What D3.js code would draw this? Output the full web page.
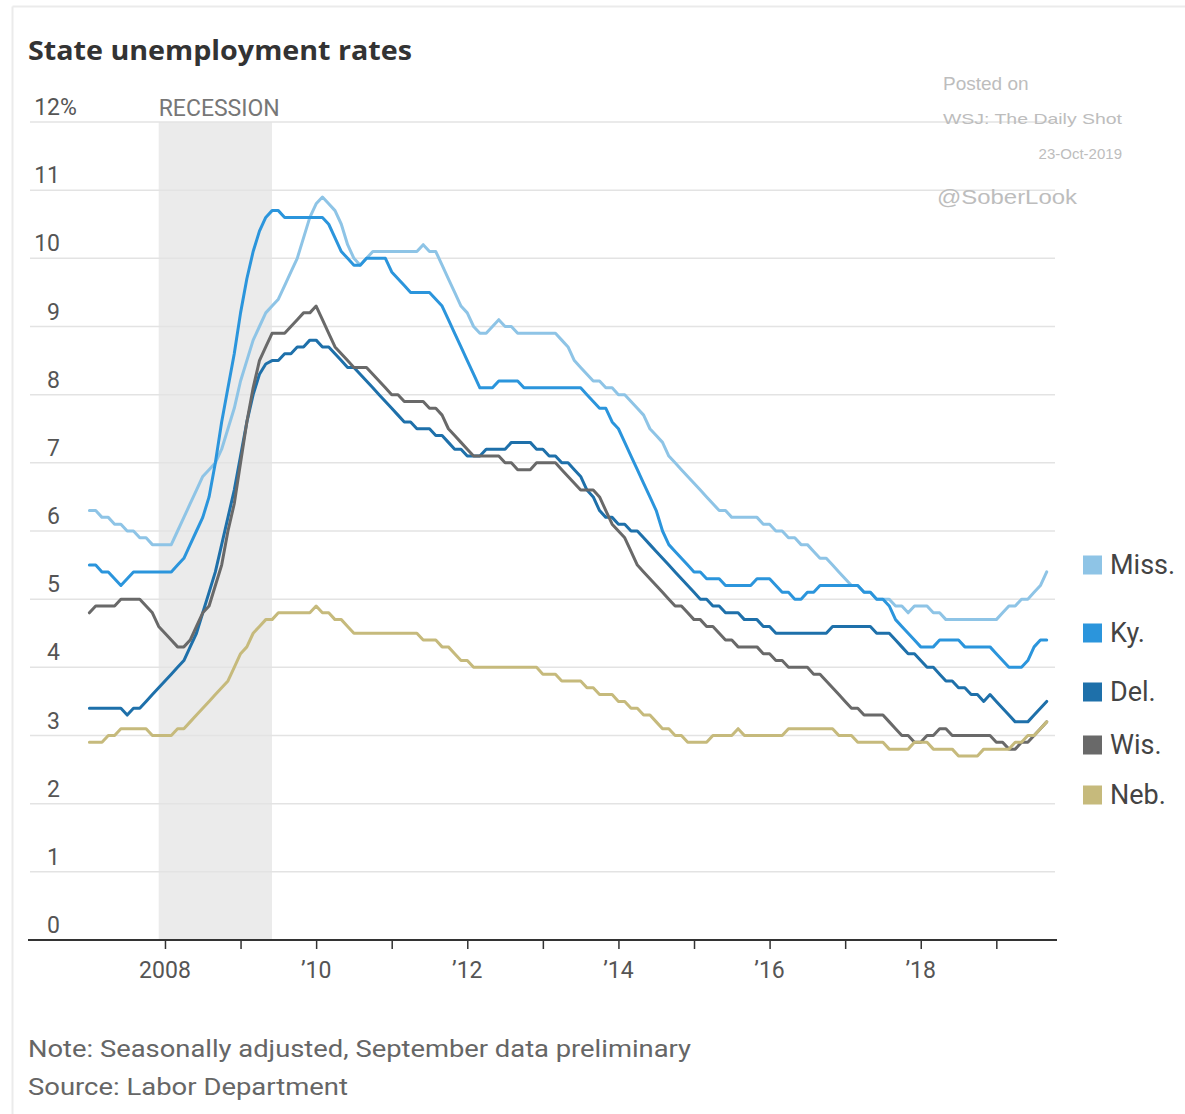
<!DOCTYPE html>
<html><head><meta charset="utf-8">
<script src="https://cdn.jsdelivr.net/npm/d3@7"></script>
<style>
html,body{margin:0;padding:0;background:#fff;}
svg{display:block;}
.narrow{font-family:"Liberation Sans Narrow","Arial Narrow","Roboto",sans-serif;}
</style></head>
<body>
<svg id="chart" width="1185" height="1114"></svg>
<script>
// ---- data (monthly, Jan 2007 – Sep 2019) ----
const startYear = 2007;
const states = ["Miss.", "Ky.", "Del.", "Wis.", "Neb."];
const colors = ["#8ec4e6", "#2b95dc", "#1e70aa", "#696969", "#c6ba7c"];
const miss = [
 6.3,6.3,6.2,6.2,6.1,6.1,6.0,6.0,5.9,5.9,5.8,5.8,
 5.8,5.8,6.0,6.2,6.4,6.6,6.8,6.9,7.0,7.2,7.5,7.8,
 8.2,8.5,8.8,9.0,9.2,9.3,9.4,9.6,9.8,10.0,10.3,10.6,
 10.8,10.9,10.8,10.7,10.5,10.2,10.0,9.9,10.0,10.1,10.1,10.1,
 10.1,10.1,10.1,10.1,10.1,10.2,10.1,10.1,9.9,9.7,9.5,9.3,
 9.2,9.0,8.9,8.9,9.0,9.1,9.0,9.0,8.9,8.9,8.9,8.9,
 8.9,8.9,8.9,8.8,8.7,8.5,8.4,8.3,8.2,8.2,8.1,8.1,
 8.0,8.0,7.9,7.8,7.7,7.5,7.4,7.3,7.1,7.0,6.9,6.8,
 6.7,6.6,6.5,6.4,6.3,6.3,6.2,6.2,6.2,6.2,6.2,6.1,
 6.1,6.0,6.0,5.9,5.9,5.8,5.8,5.7,5.6,5.6,5.5,5.4,
 5.3,5.2,5.2,5.1,5.1,5.0,5.0,5.0,4.9,4.9,4.8,4.9,
 4.9,4.9,4.8,4.8,4.7,4.7,4.7,4.7,4.7,4.7,4.7,4.7,
 4.7,4.8,4.9,4.9,5.0,5.0,5.1,5.2,5.4];
const ky = [
 5.5,5.5,5.4,5.4,5.3,5.2,5.3,5.4,5.4,5.4,5.4,5.4,
 5.4,5.4,5.5,5.6,5.8,6.0,6.2,6.5,7.0,7.6,8.1,8.6,
 9.2,9.7,10.1,10.4,10.6,10.7,10.7,10.6,10.6,10.6,10.6,10.6,
 10.6,10.6,10.5,10.3,10.1,10.0,9.9,9.9,10.0,10.0,10.0,10.0,
 9.8,9.7,9.6,9.5,9.5,9.5,9.5,9.4,9.3,9.1,8.9,8.7,
 8.5,8.3,8.1,8.1,8.1,8.2,8.2,8.2,8.2,8.1,8.1,8.1,
 8.1,8.1,8.1,8.1,8.1,8.1,8.1,8.0,7.9,7.8,7.8,7.6,
 7.5,7.3,7.1,6.9,6.7,6.5,6.3,6.0,5.8,5.7,5.6,5.5,
 5.4,5.4,5.3,5.3,5.3,5.2,5.2,5.2,5.2,5.2,5.3,5.3,
 5.3,5.2,5.1,5.1,5.0,5.0,5.1,5.1,5.2,5.2,5.2,5.2,
 5.2,5.2,5.2,5.1,5.1,5.0,5.0,4.9,4.7,4.6,4.5,4.4,
 4.3,4.3,4.3,4.4,4.4,4.4,4.4,4.3,4.3,4.3,4.3,4.3,
 4.2,4.1,4.0,4.0,4.0,4.1,4.3,4.4,4.4];
const del = [
 3.4,3.4,3.4,3.4,3.4,3.4,3.3,3.4,3.4,3.5,3.6,3.7,
 3.8,3.9,4.0,4.1,4.3,4.5,4.8,5.1,5.4,5.8,6.2,6.6,
 7.1,7.6,8.0,8.3,8.45,8.5,8.5,8.6,8.6,8.7,8.7,8.8,
 8.8,8.7,8.7,8.6,8.5,8.4,8.4,8.3,8.2,8.1,8.0,7.9,
 7.8,7.7,7.6,7.6,7.5,7.5,7.5,7.4,7.4,7.3,7.2,7.2,
 7.1,7.1,7.1,7.2,7.2,7.2,7.2,7.3,7.3,7.3,7.3,7.2,
 7.2,7.1,7.1,7.0,7.0,6.9,6.8,6.6,6.5,6.3,6.2,6.2,
 6.1,6.1,6.0,6.0,5.9,5.8,5.7,5.6,5.5,5.4,5.3,5.2,
 5.1,5.0,5.0,4.9,4.9,4.8,4.8,4.8,4.7,4.7,4.7,4.6,
 4.6,4.5,4.5,4.5,4.5,4.5,4.5,4.5,4.5,4.5,4.6,4.6,
 4.6,4.6,4.6,4.6,4.6,4.5,4.5,4.5,4.4,4.3,4.2,4.2,
 4.1,4.0,4.0,3.9,3.8,3.8,3.7,3.7,3.6,3.6,3.5,3.6,
 3.5,3.4,3.3,3.2,3.2,3.2,3.3,3.4,3.5];
const wis = [
 4.8,4.9,4.9,4.9,4.9,5.0,5.0,5.0,5.0,4.9,4.8,4.6,
 4.5,4.4,4.3,4.3,4.4,4.6,4.8,4.9,5.2,5.5,6.0,6.4,
 7.0,7.6,8.1,8.5,8.7,8.9,8.9,8.9,9.0,9.1,9.2,9.2,
 9.3,9.1,8.9,8.7,8.6,8.5,8.4,8.4,8.4,8.3,8.2,8.1,
 8.0,8.0,7.9,7.9,7.9,7.9,7.8,7.8,7.7,7.5,7.4,7.3,
 7.2,7.1,7.1,7.1,7.1,7.1,7.0,7.0,6.9,6.9,6.9,7.0,
 7.0,7.0,7.0,6.9,6.8,6.7,6.6,6.6,6.6,6.5,6.3,6.1,
 6.0,5.9,5.7,5.5,5.4,5.3,5.2,5.1,5.0,4.9,4.9,4.8,
 4.7,4.7,4.6,4.6,4.5,4.4,4.4,4.3,4.3,4.3,4.3,4.2,
 4.2,4.1,4.1,4.0,4.0,4.0,4.0,3.9,3.9,3.8,3.7,3.6,
 3.5,3.4,3.4,3.3,3.3,3.3,3.3,3.2,3.1,3.0,3.0,2.9,
 2.9,3.0,3.0,3.1,3.1,3.0,3.0,3.0,3.0,3.0,3.0,3.0,
 2.9,2.9,2.8,2.8,2.9,2.9,3.0,3.1,3.2];
const neb = [
 2.9,2.9,2.9,3.0,3.0,3.1,3.1,3.1,3.1,3.1,3.0,3.0,
 3.0,3.0,3.1,3.1,3.2,3.3,3.4,3.5,3.6,3.7,3.8,4.0,
 4.2,4.3,4.5,4.6,4.7,4.7,4.8,4.8,4.8,4.8,4.8,4.8,
 4.9,4.8,4.8,4.7,4.7,4.6,4.5,4.5,4.5,4.5,4.5,4.5,
 4.5,4.5,4.5,4.5,4.5,4.4,4.4,4.4,4.3,4.3,4.2,4.1,
 4.1,4.0,4.0,4.0,4.0,4.0,4.0,4.0,4.0,4.0,4.0,4.0,
 3.9,3.9,3.9,3.8,3.8,3.8,3.8,3.7,3.7,3.6,3.6,3.6,
 3.5,3.5,3.4,3.4,3.3,3.3,3.2,3.1,3.1,3.0,3.0,2.9,
 2.9,2.9,2.9,3.0,3.0,3.0,3.0,3.1,3.0,3.0,3.0,3.0,
 3.0,3.0,3.0,3.1,3.1,3.1,3.1,3.1,3.1,3.1,3.1,3.0,
 3.0,3.0,2.9,2.9,2.9,2.9,2.9,2.8,2.8,2.8,2.8,2.9,
 2.9,2.9,2.8,2.8,2.8,2.8,2.7,2.7,2.7,2.7,2.8,2.8,
 2.8,2.8,2.8,2.9,2.9,3.0,3.0,3.1,3.2];
const seriesValues = [miss, ky, del, wis, neb];
const yTicks = [0,1,2,3,4,5,6,7,8,9,10,11,12];
const xTickYears = [2008,2009,2010,2011,2012,2013,2014,2015,2016,2017,2018,2019];
const xLabelYears = [2008,2010,2012,2014,2016,2018];
const xLabels = ["2008","\u201910","\u201912","\u201914","\u201916","\u201918"];
const recession = [2007 + 11/12, 2009 + 5/12];

// ---- drawing ----
const svg = d3.select("#chart");
const x = d3.scaleLinear().domain([2007, 2019.75]).range([89.4, 1053]);
const y = d3.scaleLinear().domain([0, 12]).range([940, 122]);

// frame (top and left edges only)
svg.append("line").attr("x1",12.5).attr("x2",1185).attr("y1",6.5).attr("y2",6.5)
  .attr("stroke","#ebebeb").attr("stroke-width",2);
svg.append("line").attr("x1",12.5).attr("x2",12.5).attr("y1",6.5).attr("y2",1114)
  .attr("stroke","#ebebeb").attr("stroke-width",2);

// title
svg.append("text").attr("x",28).attr("y",60)
  .attr("font-family","'Open Sans','Noto Sans',sans-serif").attr("font-weight",700)
  .attr("font-size",26).attr("fill","#333").attr("textLength",384).attr("lengthAdjust","spacingAndGlyphs")
  .text("State unemployment rates");

// recession shading
svg.append("rect").attr("x",x(recession[0])).attr("y",y(12))
  .attr("width",x(recession[1])-x(recession[0])).attr("height",y(0)-y(12))
  .attr("fill","#ebebeb");
svg.append("text").attr("class","narrow").attr("x",x(recession[0])).attr("y",y(12)-6)
  .attr("font-size",23).attr("fill","#777").text("RECESSION");

// gridlines
svg.append("g").selectAll("line").data(yTicks.filter(d=>d>0)).join("line")
  .attr("x1",30).attr("x2",1055).attr("y1",d=>y(d)).attr("y2",d=>y(d))
  .attr("stroke","#e3e3e3").attr("stroke-width",1.5);

// y labels
const yl = svg.append("g").attr("class","narrow").attr("font-size",23).attr("fill","#555");
yl.selectAll("text").data(yTicks).join("text")
  .attr("x",60).attr("y",d=>y(d)-7).attr("text-anchor","end")
  .text(d=>d);
yl.append("text").attr("x",60).attr("y",y(12)-7).text("%");

// x axis
const xAxis = d3.axisBottom(x).tickValues(xTickYears).tickSize(9).tickFormat("");
const gx = svg.append("g").attr("transform",`translate(0,${y(0)})`).call(xAxis);
gx.select(".domain").remove();
gx.selectAll(".tick line").attr("stroke","#333").attr("stroke-width",1.5);
svg.append("line").attr("x1",28).attr("x2",1057).attr("y1",y(0)).attr("y2",y(0))
  .attr("stroke","#333").attr("stroke-width",2);
svg.append("g").attr("class","narrow").attr("font-size",23).attr("fill","#555")
  .selectAll("text").data(xLabelYears).join("text")
  .attr("x",d=>x(d)).attr("y",978).attr("text-anchor","middle")
  .text((d,i)=>xLabels[i]);

// lines
const line = d3.line().x((d,i)=>x(startYear + i/12)).y(d=>y(d));
svg.append("g").selectAll("path").data(seriesValues).join("path")
  .attr("d",d=>line(d)).attr("fill","none")
  .attr("stroke",(d,i)=>colors[i]).attr("stroke-width",3)
  .attr("stroke-linejoin","round").attr("stroke-linecap","round");

// legend
const legY = [565, 633, 692, 745, 795];
const lg = svg.append("g").selectAll("g").data(states).join("g")
  .attr("transform",(d,i)=>`translate(1083,${legY[i]})`);
lg.append("rect").attr("x",0).attr("y",-9.5).attr("width",19).attr("height",19)
  .attr("fill",(d,i)=>colors[i]);
lg.append("text").attr("class","narrow").attr("x",27).attr("y",9).attr("font-size",27)
  .attr("fill","#444").text(d=>d);

// watermark
const wm = svg.append("g").attr("font-family","'Liberation Sans',Arial,sans-serif").attr("fill","#bdbdbd");
wm.append("text").attr("x",943).attr("y",90).attr("font-size",19).text("Posted on");
wm.append("text").attr("x",943).attr("y",124).attr("font-size",15).attr("textLength",179).attr("lengthAdjust","spacingAndGlyphs").text("WSJ: The Daily Shot");
wm.append("text").attr("x",1122).attr("y",159).attr("font-size",15).attr("text-anchor","end").text("23-Oct-2019");
wm.append("text").attr("x",937).attr("y",204).attr("font-size",20).attr("textLength",140).attr("lengthAdjust","spacingAndGlyphs").text("@SoberLook");

// footer
const ft = svg.append("g").attr("class","narrow").attr("font-size",23).attr("fill","#666");
ft.append("text").attr("x",28).attr("y",1057).attr("textLength",663).attr("lengthAdjust","spacingAndGlyphs")
  .text("Note: Seasonally adjusted, September data preliminary");
ft.append("text").attr("x",28).attr("y",1095).attr("textLength",320).attr("lengthAdjust","spacingAndGlyphs")
  .text("Source: Labor Department");
</script>
</body></html>
